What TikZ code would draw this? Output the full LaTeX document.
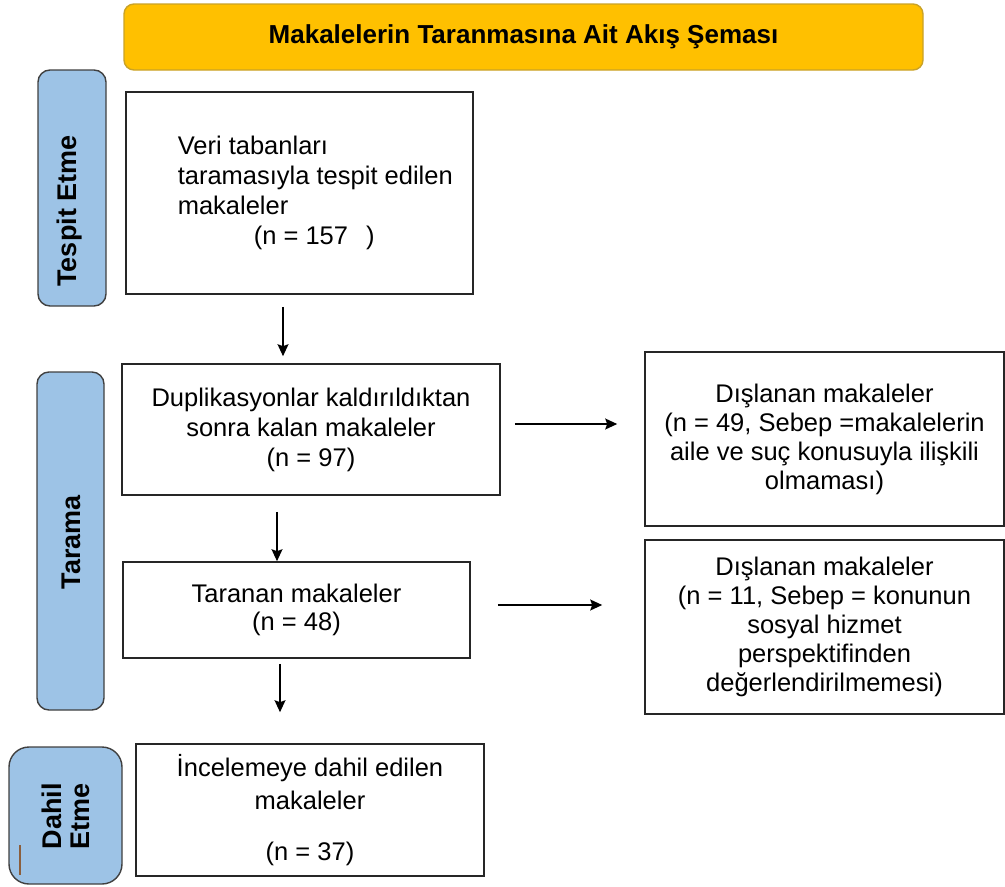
\documentclass[tikz,border=0pt]{standalone}
\usepackage{fontspec}
\setmainfont{Liberation Sans}
\usetikzlibrary{arrows.meta}
\definecolor{baslikrenk}{HTML}{FFC000}
\definecolor{baslikcizgi}{HTML}{C9A227}
\definecolor{evrerenk}{HTML}{9DC3E6}
\definecolor{imlec}{HTML}{8B5E3C}

\begin{document}
\begin{tikzpicture}[x=1pt,y=-1pt]
\tikzstyle{ok}=[-{Stealth[length=12pt,width=11pt,inset=2pt]},line width=1.3pt]
\tikzset{kutu/.style={draw=black!85,line width=1.6pt,inner sep=0pt,align=center,font=\fontsize{25.5}{29}\selectfont},
evre/.style={draw=black!75,line width=1.4pt,fill=evrerenk,rounded corners=#1,inner sep=0pt},
evre/.default={12pt},
evreyazi/.style={rotate=90,align=center,inner sep=0pt,font=\bfseries\fontsize{27}{28}\selectfont}}
\useasboundingbox (0,0) rectangle (1005,887);

\node[draw=baslikcizgi,line width=1.4pt,fill=baslikrenk,rounded corners=10pt,minimum width=799pt,minimum height=66pt,font=\bfseries\fontsize{26}{28}\selectfont] (baslik) at (523.5,37) {Makalelerin Taranmasına Ait Akış Şeması};

\node[evre,minimum width=68pt,minimum height=236pt] (tespit) at (72,188) {};
\node[evreyazi] (tespityazi) at (70,211) {Tespit Etme};
\node[evre,minimum width=67pt,minimum height=338pt] (tarama) at (70.5,541) {};
\node[evreyazi] (taramayazi) at (71,542) {Tarama};
\node[evre=20pt,minimum width=113pt,minimum height=137pt] (dahil) at (65.5,815.5) {};
\node[evreyazi] (dahilyazi) at (66,816) {Dahil\\Etme};
\draw[imlec,line width=1.2pt] (20,845) -- (20,875);

\node[kutu,minimum width=347pt,minimum height=202pt] (veri) at (299.5,193) {};
\node[kutu,draw=none,anchor=west,align=left,font=\fontsize{25.5}{30}\selectfont] (veriyazi) at (177,193) {Veri tabanları\\taramasıyla tespit edilen\\makaleler\\\hspace*{76pt}(n = 157\hspace{18pt})};
\node[kutu,minimum width=378pt,minimum height=131pt,font=\fontsize{25.5}{30}\selectfont] (dup) at (311,429.5) {Duplikasyonlar kaldırıldıktan\\sonra kalan makaleler\\(n = 97)};
\node[kutu,minimum width=359pt,minimum height=174pt] (dis1) at (824.5,439) {Dışlanan makaleler\\(n = 49, Sebep =makalelerin\\aile ve suç konusuyla ilişkili\\olmaması)};
\node[kutu,minimum width=347pt,minimum height=96pt,font=\fontsize{25.5}{28}\selectfont] (taranan) at (296.5,610) {Taranan makaleler\\(n = 48)};
\node[kutu,minimum width=359pt,minimum height=174pt] (dis2) at (824.5,627) {Dışlanan makaleler\\(n = 11, Sebep = konunun\\sosyal hizmet\\perspektifinden\\değerlendirilmemesi)};
\node[kutu,minimum width=348pt,minimum height=132pt,font=\fontsize{25.5}{33}\selectfont] (dahilk) at (310,810) {İncelemeye dahil edilen\\makaleler\\[18pt](n = 37)};

\draw[ok,shorten <=12pt,shorten >=7pt] ([xshift=-16.5pt]veri.south) -- ([xshift=-16.5pt]veri.south |- dup.north);
\draw[ok,shorten <=16pt] ([xshift=-34pt]dup.south) -- ([xshift=-34pt]dup.south |- taranan.north);
\draw[ok,shorten <=5pt,shorten >=31pt] ([xshift=-16.5pt]taranan.south) -- ([xshift=-16.5pt]taranan.south |- dahilk.north);
\draw[ok,shorten <=14pt,shorten >=27pt] ([yshift=5.5pt]dup.east) -- ([yshift=5.5pt]dup.east -| dis1.west);
\draw[ok,shorten <=27pt,shorten >=42pt] ([yshift=5pt]taranan.east) -- ([yshift=5pt]taranan.east -| dis2.west);

\end{tikzpicture}
\end{document}
